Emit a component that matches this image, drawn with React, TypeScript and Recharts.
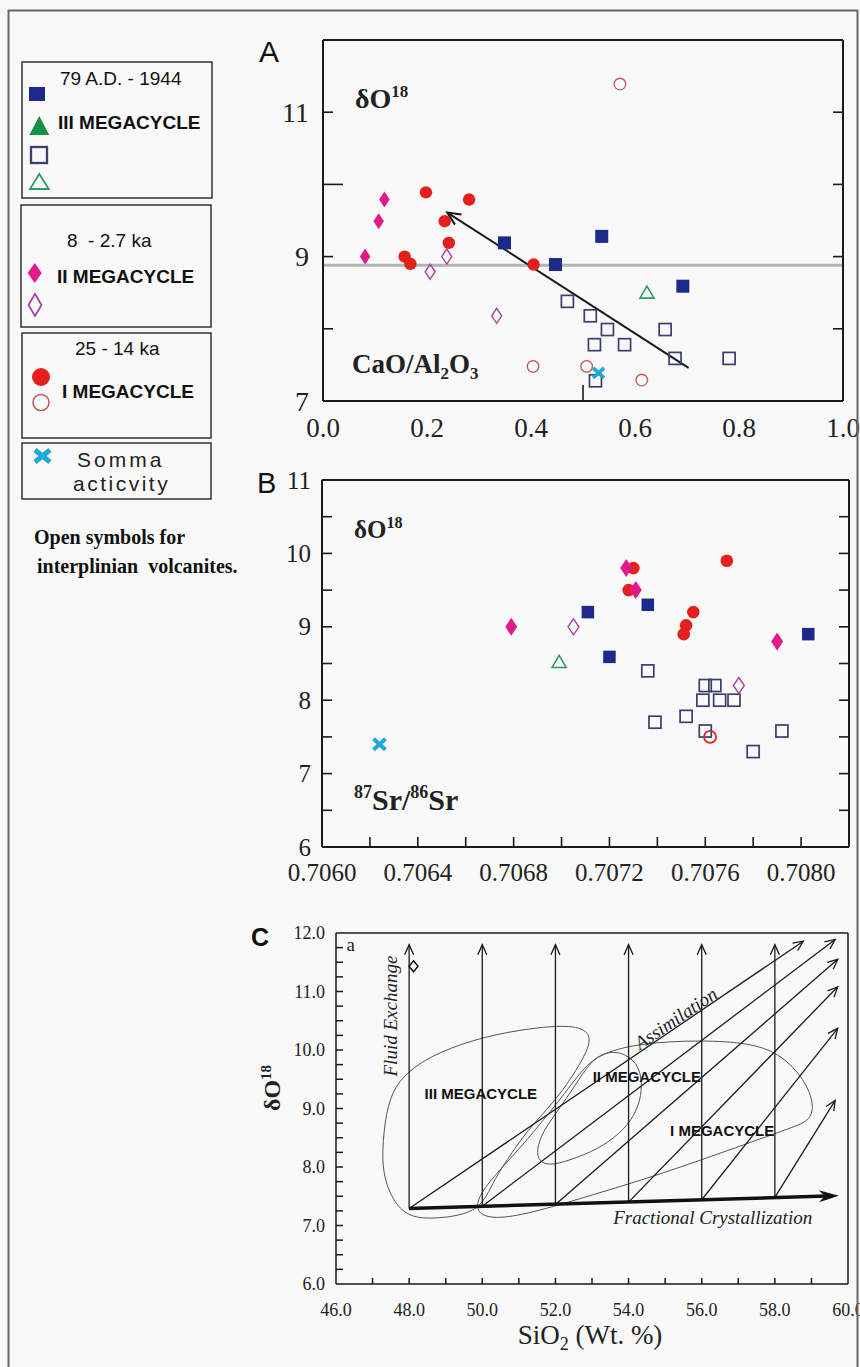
import React from 'react';
import { ComposedChart, Scatter, XAxis, YAxis, ReferenceLine, Line } from 'recharts';

const SERIF = '"Liberation Serif", "Times New Roman", serif';
const SANS = '"Liberation Sans", Arial, sans-serif';

// ---------- colours
const NAVY = '#1d2a8c';
const NAVY_OPEN = '#3b3e6e';
const GREEN = '#17904a';
const GREEN_OPEN = '#2f9a62';
const MAGENTA = '#e3188b';
const PURPLE_OPEN = '#a8449e';
const RED = '#e3201e';
const RED_OPEN_A = '#b95a55';
const RED_OPEN_B = '#e02525';
const CYAN = '#1fa9d6';

// ---------- Panel A : δO18 vs CaO/Al2O3
const aXTicks = [0, 0.1, 0.2, 0.3, 0.4, 0.5, 0.6, 0.7, 0.8, 0.9, 1.0];
const aXLabeled = [0, 0.2, 0.4, 0.6, 0.8, 1.0];
const aYTicks = [7, 8, 9, 10, 11, 12];
const aYLabeled = [7, 9, 11];
const aSquaresFilled = [
  { x: 0.349, y: 9.19 }, { x: 0.536, y: 9.28 }, { x: 0.447, y: 8.89 }, { x: 0.692, y: 8.59 },
];
const aSquaresOpen = [
  { x: 0.470, y: 8.38 }, { x: 0.514, y: 8.18 }, { x: 0.547, y: 7.99 }, { x: 0.522, y: 7.78 },
  { x: 0.580, y: 7.78 }, { x: 0.658, y: 7.99 }, { x: 0.677, y: 7.59 }, { x: 0.781, y: 7.59 },
  { x: 0.524, y: 7.28 },
];
const aTrianglesOpen = [{ x: 0.623, y: 8.5 }];
const aDiamondsFilled = [{ x: 0.081, y: 9.0 }, { x: 0.107, y: 9.49 }, { x: 0.118, y: 9.79 }];
const aDiamondsOpen = [{ x: 0.206, y: 8.79 }, { x: 0.238, y: 9.0 }, { x: 0.334, y: 8.18 }];
const aCirclesFilled = [
  { x: 0.198, y: 9.89 }, { x: 0.281, y: 9.79 }, { x: 0.234, y: 9.49 }, { x: 0.242, y: 9.19 },
  { x: 0.157, y: 9.0 }, { x: 0.168, y: 8.9 }, { x: 0.405, y: 8.89 },
];
const aCirclesOpen = [{ x: 0.571, y: 11.39 }, { x: 0.404, y: 7.48 }, { x: 0.507, y: 7.48 }, { x: 0.613, y: 7.29 }];
const aSomma = [{ x: 0.530, y: 7.39 }];
const aReferenceLevel = 8.88;
const aTrendFrom = { x: 0.703, y: 7.46 };
const aTrendTo = { x: 0.239, y: 9.61 };

// ---------- Panel B : δO18 vs 87Sr/86Sr
const bXTicks = [0.706, 0.7062, 0.7064, 0.7066, 0.7068, 0.707, 0.7072, 0.7074, 0.7076, 0.7078, 0.708, 0.7082];
const bXLabeled = [0.706, 0.7064, 0.7068, 0.7072, 0.7076, 0.708];
const bYTicks = [6, 6.5, 7, 7.5, 8, 8.5, 9, 9.5, 10, 10.5, 11];
const bYLabeled = [6, 7, 8, 9, 10, 11];
const bSquaresFilled = [
  { x: 0.70711, y: 9.2 }, { x: 0.7072, y: 8.59 }, { x: 0.70736, y: 9.3 }, { x: 0.70803, y: 8.9 },
];
const bSquaresOpen = [
  { x: 0.70736, y: 8.4 }, { x: 0.70739, y: 7.7 }, { x: 0.70752, y: 7.78 }, { x: 0.7076, y: 8.2 },
  { x: 0.70764, y: 8.2 }, { x: 0.70759, y: 8.0 }, { x: 0.70766, y: 8.0 }, { x: 0.70772, y: 8.0 },
  { x: 0.7076, y: 7.58 }, { x: 0.7078, y: 7.3 }, { x: 0.70792, y: 7.58 },
];
const bTrianglesOpen = [{ x: 0.70699, y: 8.52 }];
const bDiamondsFilled = [{ x: 0.70679, y: 9.0 }, { x: 0.70727, y: 9.8 }, { x: 0.70731, y: 9.5 }, { x: 0.7079, y: 8.8 }];
const bDiamondsOpen = [{ x: 0.70705, y: 9.0 }, { x: 0.70774, y: 8.2 }];
const bCirclesFilled = [
  { x: 0.7073, y: 9.8 }, { x: 0.70728, y: 9.5 }, { x: 0.70755, y: 9.2 }, { x: 0.70752, y: 9.02 },
  { x: 0.70751, y: 8.9 }, { x: 0.70769, y: 9.9 },
];
const bCirclesOpen = [{ x: 0.70762, y: 7.5 }];
const bSomma = [{ x: 0.70624, y: 7.4 }];

// ---------- Panel C : δO18 vs SiO2 (schematic)
const cXTicks = [46, 47, 48, 49, 50, 51, 52, 53, 54, 55, 56, 57, 58, 59, 60];
const cXLabeled = [46, 48, 50, 52, 54, 56, 58, 60];
const cYTicks = [6, 6.25, 6.5, 6.75, 7, 7.25, 7.5, 7.75, 8, 8.25, 8.5, 8.75, 9, 9.25, 9.5, 9.75, 10, 10.25, 10.5, 10.75, 11, 11.25, 11.5, 11.75, 12];
const cYLabeled = [6, 7, 8, 9, 10, 11, 12];
const cRiseX = [48, 50, 52, 54, 56, 58];
const cRiseBaseY = [7.29, 7.33, 7.36, 7.4, 7.44, 7.48];
const cRiseTopY = 11.8;
const cAssimEnd = [
  { x: 58.78, y: 11.86 }, { x: 59.65, y: 11.89 }, { x: 59.72, y: 11.55 },
  { x: 59.72, y: 11.08 }, { x: 59.72, y: 10.37 }, { x: 59.65, y: 9.14 },
];
const cFractionalFrom = { x: 48, y: 7.29 };
const cFractionalTo = { x: 59.75, y: 7.51 };
const cFieldIII = [
  { x: 47.3, y: 8.6 }, { x: 47.45, y: 9.2 }, { x: 47.9, y: 9.62 }, { x: 48.8, y: 9.97 },
  { x: 50.1, y: 10.24 }, { x: 51.4, y: 10.38 }, { x: 52.45, y: 10.43 }, { x: 53.0, y: 10.3 },
  { x: 52.88, y: 9.95 }, { x: 52.1, y: 9.2 }, { x: 51.4, y: 8.75 }, { x: 50.8, y: 8.25 },
  { x: 50.3, y: 7.75 }, { x: 50.05, y: 7.4 }, { x: 49.6, y: 7.18 }, { x: 48.5, y: 7.1 },
  { x: 47.85, y: 7.18 }, { x: 47.45, y: 7.55 }, { x: 47.25, y: 8.0 },
];
const cFieldII = [
  { x: 51.55, y: 8.08 }, { x: 51.48, y: 8.3 }, { x: 51.65, y: 8.6 }, { x: 52.05, y: 8.95 },
  { x: 52.55, y: 9.4 }, { x: 52.95, y: 9.8 }, { x: 53.4, y: 9.98 }, { x: 53.9, y: 9.95 },
  { x: 54.32, y: 9.72 }, { x: 54.38, y: 9.3 }, { x: 54.22, y: 8.95 }, { x: 53.9, y: 8.65 },
  { x: 53.3, y: 8.35 }, { x: 52.6, y: 8.16 }, { x: 51.9, y: 8.02 },
];
const cFieldI = [
  { x: 49.82, y: 7.2 }, { x: 49.88, y: 7.5 }, { x: 50.4, y: 7.9 }, { x: 51.0, y: 8.3 },
  { x: 51.9, y: 8.97 }, { x: 52.6, y: 9.55 }, { x: 53.1, y: 9.92 }, { x: 54.3, y: 10.12 },
  { x: 56.0, y: 10.17 }, { x: 57.3, y: 10.12 }, { x: 58.1, y: 9.95 }, { x: 58.75, y: 9.56 },
  { x: 59.08, y: 9.1 }, { x: 58.98, y: 8.8 }, { x: 58.5, y: 8.68 }, { x: 56.7, y: 8.28 },
  { x: 54.9, y: 7.88 }, { x: 53.0, y: 7.52 }, { x: 51.5, y: 7.24 }, { x: 50.4, y: 7.1 },
];
const cFieldLabels = [
  { x: 49.96, y: 9.26, label: 'III MEGACYCLE' },
  { x: 54.5, y: 9.54, label: 'II MEGACYCLE' },
  { x: 56.56, y: 8.63, label: 'I MEGACYCLE' },
];
const cProcessLabels = [
  { x: 56.3, y: 7.13, label: 'Fractional Crystallization', angle: 0 },
  { x: 55.29, y: 10.54, label: 'Assimilation', angle: -34 },
  { x: 47.49, y: 10.58, label: 'Fluid Exchange', angle: -90 },
];
const cCornerLabel = [{ x: 46.4, y: 11.8, label: 'a' }];
const cDiamond = [{ x: 48.12, y: 11.43 }];

// ---------- helpers
const near = (arr: number[], v: number) => arr.some((a) => Math.abs(a - v) < 1e-7);

type TickCfg = {
  side: 'bottom' | 'top' | 'left' | 'right';
  len: (v: number) => number;
  label?: (v: number) => string | null;
  offset?: number;
  fontSize?: number;
  strokeWidth?: number;
};

const makeTick = (c: TickCfg) => (props: any) => {
  const { x, y, payload } = props;
  const v = payload.value as number;
  const L = c.len(v);
  let x2 = x;
  let y2 = y;
  if (c.side === 'bottom') y2 = y - L;
  else if (c.side === 'top') y2 = y + L;
  else if (c.side === 'left') x2 = x + L;
  else x2 = x - L;
  const lab = c.label ? c.label(v) : null;
  const off = c.offset ?? 10;
  let text: any = null;
  if (lab !== null && lab !== undefined) {
    const common = { fontFamily: SERIF, fontSize: c.fontSize ?? 20, fill: '#222', dominantBaseline: 'central' as any };
    if (c.side === 'bottom') {
      text = (
        <text x={x} y={y + off} textAnchor="middle" {...common}>
          {lab}
        </text>
      );
    } else if (c.side === 'left') {
      text = (
        <text x={x - off} y={y} textAnchor="end" {...common}>
          {lab}
        </text>
      );
    }
  }
  return (
    <g>
      {L > 0 && <line x1={x} y1={y} x2={x2} y2={y2} stroke="#1a1a1a" strokeWidth={c.strokeWidth ?? 1.6} />}
      {text}
    </g>
  );
};

const sqShape = (size: number, fill: string, stroke: string, sw: number) => (p: any) => (
  <rect x={p.cx - size / 2} y={p.cy - size / 2} width={size} height={size} fill={fill} stroke={stroke} strokeWidth={sw} />
);
const circShape = (r: number, fill: string, stroke: string, sw: number) => (p: any) => (
  <circle cx={p.cx} cy={p.cy} r={r} fill={fill} stroke={stroke} strokeWidth={sw} />
);
const diaShape = (w: number, h: number, fill: string, stroke: string, sw: number) => (p: any) => (
  <polygon
    points={`${p.cx},${p.cy - h / 2} ${p.cx + w / 2},${p.cy} ${p.cx},${p.cy + h / 2} ${p.cx - w / 2},${p.cy}`}
    fill={fill}
    stroke={stroke}
    strokeWidth={sw}
  />
);
const triShape = (w: number, h: number, fill: string, stroke: string, sw: number) => (p: any) => (
  <polygon
    points={`${p.cx},${p.cy - h * 0.55} ${p.cx + w / 2},${p.cy + h * 0.45} ${p.cx - w / 2},${p.cy + h * 0.45}`}
    fill={fill}
    stroke={stroke}
    strokeWidth={sw}
  />
);
const xShape = (w: number, h: number, color: string, sw: number) => (p: any) => (
  <g>
    <line x1={p.cx - w / 2} y1={p.cy - h / 2} x2={p.cx + w / 2} y2={p.cy + h / 2} stroke={color} strokeWidth={sw} />
    <line x1={p.cx - w / 2} y1={p.cy + h / 2} x2={p.cx + w / 2} y2={p.cy - h / 2} stroke={color} strokeWidth={sw} />
  </g>
);

const arrowLine = (color: string, width: number, head: number, halfW: number, filled: boolean) => (p: any) => {
  const { x1, y1, x2, y2 } = p;
  if ([x1, y1, x2, y2].some((v) => typeof v !== 'number' || isNaN(v))) return <g />;
  const ang = Math.atan2(y2 - y1, x2 - x1);
  const cos = Math.cos(ang);
  const sin = Math.sin(ang);
  const bx = x2 - head * cos;
  const by = y2 - head * sin;
  const ax1 = bx - halfW * sin;
  const ay1 = by + halfW * cos;
  const ax2 = bx + halfW * sin;
  const ay2 = by - halfW * cos;
  const ex = filled ? x2 - head * 0.6 * cos : x2;
  const ey = filled ? y2 - head * 0.6 * sin : y2;
  return (
    <g>
      <line x1={x1} y1={y1} x2={ex} y2={ey} stroke={color} strokeWidth={width} />
      {filled ? (
        <polygon points={`${x2},${y2} ${ax1},${ay1} ${x2 - head * 0.7 * cos},${y2 - head * 0.7 * sin} ${ax2},${ay2}`} fill={color} />
      ) : (
        <polyline points={`${ax1},${ay1} ${x2},${y2} ${ax2},${ay2}`} fill="none" stroke={color} strokeWidth={width} />
      )}
    </g>
  );
};

const fieldTextShape = (p: any) => (
  <text
    x={p.cx}
    y={p.cy}
    textAnchor="middle"
    dominantBaseline="central"
    fontFamily={SANS}
    fontWeight="bold"
    fontSize={15}
    fill="#111"
  >
    {p.payload.label}
  </text>
);
const processTextShape = (p: any) => (
  <text
    x={p.cx}
    y={p.cy}
    textAnchor="middle"
    dominantBaseline="central"
    fontFamily={SERIF}
    fontStyle="italic"
    fontSize={19}
    fill="#222"
    transform={`rotate(${p.payload.angle} ${p.cx} ${p.cy})`}
  >
    {p.payload.label}
  </text>
);
const cornerTextShape = (p: any) => (
  <text x={p.cx} y={p.cy} textAnchor="middle" dominantBaseline="central" fontFamily={SERIF} fontSize={19} fill="#222">
    {p.payload.label}
  </text>
);

const AXIS_A = { stroke: '#1a1a1a', strokeWidth: 2 };
const AXIS_C = { stroke: '#1a1a1a', strokeWidth: 1.5 };

function PanelA() {
  return (
    <ComposedChart width={600} height={430} margin={{ top: 19, right: 19, left: 0, bottom: 0 }}>
      <XAxis
        dataKey="x"
        type="number"
        domain={[0, 1]}
        allowDataOverflow
        ticks={aXTicks}
        interval={0}
        height={49}
        tickSize={0}
        tickMargin={0}
        tickLine={false}
        axisLine={AXIS_A}
        tick={makeTick({
          side: 'bottom',
          len: (v) => (Math.abs(v - 0.5) < 1e-6 ? 16 : 0),
          label: (v) => (near(aXLabeled, v) ? v.toFixed(1) : null),
          offset: 27,
          fontSize: 27,
        })}
      />
      <XAxis
        xAxisId="top"
        orientation="top"
        type="number"
        domain={[0, 1]}
        allowDataOverflow
        ticks={aXTicks}
        interval={0}
        height={1}
        tickSize={0}
        tickMargin={0}
        tickLine={false}
        axisLine={AXIS_A}
        tick={makeTick({ side: 'top', len: (v) => (v > 0.01 && v < 0.99 ? 8 : 0) })}
      />
      <YAxis
        dataKey="y"
        type="number"
        domain={[7, 12]}
        allowDataOverflow
        ticks={aYTicks}
        interval={0}
        width={60}
        tickSize={0}
        tickMargin={0}
        tickLine={false}
        axisLine={AXIS_A}
        tick={makeTick({
          side: 'left',
          len: (v) => (v === 10 ? 20 : v > 7 && v < 12 ? 10 : 0),
          label: (v) => (near(aYLabeled, v) ? String(v) : null),
          offset: 14,
          fontSize: 28,
        })}
      />
      <YAxis
        yAxisId="right"
        orientation="right"
        type="number"
        domain={[7, 12]}
        allowDataOverflow
        ticks={aYTicks}
        interval={0}
        width={1}
        tickSize={0}
        tickMargin={0}
        tickLine={false}
        axisLine={AXIS_A}
        tick={makeTick({ side: 'right', len: (v) => (v > 7 && v < 12 ? 10 : 0) })}
      />
      <ReferenceLine y={aReferenceLevel} stroke="#b3b3b3" strokeWidth={3} />
      <ReferenceLine segment={[aTrendFrom, aTrendTo]} shape={arrowLine('#1a1a1a', 2, 13, 6, false)} />
      <Scatter data={aSquaresOpen} shape={sqShape(12, 'none', NAVY_OPEN, 1.7)} isAnimationActive={false} />
      <Scatter data={aCirclesOpen} shape={circShape(5.8, 'none', RED_OPEN_A, 1.3)} isAnimationActive={false} />
      <Scatter data={aDiamondsOpen} shape={diaShape(10, 15, 'none', PURPLE_OPEN, 1.4)} isAnimationActive={false} />
      <Scatter data={aTrianglesOpen} shape={triShape(14, 12, 'none', GREEN_OPEN, 1.6)} isAnimationActive={false} />
      <Scatter data={aSquaresFilled} shape={sqShape(13, NAVY, NAVY, 0)} isAnimationActive={false} />
      <Scatter data={aCirclesFilled} shape={circShape(6.2, RED, RED, 0)} isAnimationActive={false} />
      <Scatter data={aDiamondsFilled} shape={diaShape(10.5, 16, MAGENTA, MAGENTA, 0)} isAnimationActive={false} />
      <Scatter data={aSomma} shape={xShape(11, 10, CYAN, 3.5)} isAnimationActive={false} />
    </ComposedChart>
  );
}

function PanelB() {
  return (
    <ComposedChart width={600} height={436} margin={{ top: 19, right: 12, left: 0, bottom: 0 }}>
      <XAxis
        dataKey="x"
        type="number"
        domain={[0.706, 0.7082]}
        allowDataOverflow
        ticks={bXTicks}
        interval={0}
        height={49}
        tickSize={0}
        tickMargin={0}
        tickLine={false}
        axisLine={AXIS_A}
        tick={makeTick({
          side: 'bottom',
          len: (v) => (v > 0.70601 && v < 0.70819 ? 10 : 0),
          label: (v) => (near(bXLabeled, v) ? v.toFixed(4) : null),
          offset: 25,
          fontSize: 25,
        })}
      />
      <XAxis
        xAxisId="top"
        orientation="top"
        type="number"
        domain={[0.706, 0.7082]}
        allowDataOverflow
        ticks={bXTicks}
        interval={0}
        height={1}
        tickSize={0}
        tickMargin={0}
        tickLine={false}
        axisLine={AXIS_A}
        tick={makeTick({ side: 'top', len: (v) => (v > 0.70601 && v < 0.70819 ? 10 : 0) })}
      />
      <YAxis
        dataKey="y"
        type="number"
        domain={[6, 11]}
        allowDataOverflow
        ticks={bYTicks}
        interval={0}
        width={60}
        tickSize={0}
        tickMargin={0}
        tickLine={false}
        axisLine={AXIS_A}
        tick={makeTick({
          side: 'left',
          len: (v) => (v > 6 && v < 11 ? 10 : 0),
          label: (v) => (near(bYLabeled, v) ? String(v) : null),
          offset: 11,
          fontSize: 25,
        })}
      />
      <YAxis
        yAxisId="right"
        orientation="right"
        type="number"
        domain={[6, 11]}
        allowDataOverflow
        ticks={bYTicks}
        interval={0}
        width={1}
        tickSize={0}
        tickMargin={0}
        tickLine={false}
        axisLine={AXIS_A}
        tick={makeTick({ side: 'right', len: (v) => (v > 6 && v < 11 ? 10 : 0) })}
      />
      <Scatter data={bSquaresOpen} shape={sqShape(12, 'none', NAVY_OPEN, 1.7)} isAnimationActive={false} />
      <Scatter data={bCirclesOpen} shape={circShape(6, 'none', RED_OPEN_B, 1.8)} isAnimationActive={false} />
      <Scatter data={bDiamondsOpen} shape={diaShape(11, 16, 'none', PURPLE_OPEN, 1.4)} isAnimationActive={false} />
      <Scatter data={bTrianglesOpen} shape={triShape(14, 12, 'none', GREEN_OPEN, 1.6)} isAnimationActive={false} />
      <Scatter data={bSquaresFilled} shape={sqShape(12.5, NAVY, NAVY, 0)} isAnimationActive={false} />
      <Scatter data={bCirclesFilled} shape={circShape(6.3, RED, RED, 0)} isAnimationActive={false} />
      <Scatter data={bDiamondsFilled} shape={diaShape(12, 18, MAGENTA, MAGENTA, 0)} isAnimationActive={false} />
      <Scatter data={bSomma} shape={xShape(12, 11, CYAN, 4)} isAnimationActive={false} />
    </ComposedChart>
  );
}

function PanelC() {
  return (
    <ComposedChart width={600} height={420} margin={{ top: 19, right: 27, left: 0, bottom: 0 }}>
      <XAxis
        dataKey="x"
        type="number"
        domain={[46, 60]}
        allowDataOverflow
        ticks={cXTicks}
        interval={0}
        height={49}
        tickSize={0}
        tickMargin={0}
        tickLine={false}
        axisLine={AXIS_C}
        tick={makeTick({
          side: 'bottom',
          len: (v) => (v > 46 && v < 60 ? 6 : 0),
          label: (v) => (near(cXLabeled, v) ? v.toFixed(1) : null),
          offset: 26,
          fontSize: 18,
          strokeWidth: 1.5,
        })}
      />
      <XAxis
        xAxisId="top"
        orientation="top"
        type="number"
        domain={[46, 60]}
        allowDataOverflow
        height={1}
        tick={false}
        tickLine={false}
        axisLine={AXIS_C}
      />
      <YAxis
        dataKey="y"
        type="number"
        domain={[6, 12]}
        allowDataOverflow
        ticks={cYTicks}
        interval={0}
        width={60}
        tickSize={0}
        tickMargin={0}
        tickLine={false}
        axisLine={AXIS_C}
        tick={makeTick({
          side: 'left',
          len: (v) => (v > 6 && v < 12 ? 7 : 0),
          label: (v) => (near(cYLabeled, v) ? v.toFixed(1) : null),
          offset: 11,
          fontSize: 18,
          strokeWidth: 1.5,
        })}
      />
      <YAxis
        yAxisId="right"
        orientation="right"
        type="number"
        domain={[6, 12]}
        allowDataOverflow
        width={1}
        tick={false}
        tickLine={false}
        axisLine={AXIS_C}
      />
      <Line data={cFieldIII} dataKey="y" type="basisClosed" stroke="#555" strokeWidth={1} dot={false} activeDot={false} isAnimationActive={false} />
      <Line data={cFieldII} dataKey="y" type="basisClosed" stroke="#555" strokeWidth={1} dot={false} activeDot={false} isAnimationActive={false} />
      <Line data={cFieldI} dataKey="y" type="basisClosed" stroke="#555" strokeWidth={1} dot={false} activeDot={false} isAnimationActive={false} />
      {cRiseX.map((x, i) => (
        <ReferenceLine
          key={'rise' + i}
          segment={[{ x, y: cRiseBaseY[i] }, { x, y: cRiseTopY }]}
          shape={arrowLine('#1a1a1a', 1.3, 10, 4.5, false)}
        />
      ))}
      {cRiseX.map((x, i) => (
        <ReferenceLine
          key={'assim' + i}
          segment={[{ x, y: cRiseBaseY[i] }, cAssimEnd[i]]}
          shape={arrowLine('#1a1a1a', 1.3, 10, 4.5, false)}
        />
      ))}
      <ReferenceLine segment={[cFractionalFrom, cFractionalTo]} shape={arrowLine('#111', 3.5, 20, 6, true)} />
      <Scatter data={cFieldLabels} shape={fieldTextShape} isAnimationActive={false} />
      <Scatter data={cProcessLabels} shape={processTextShape} isAnimationActive={false} />
      <Scatter data={cCornerLabel} shape={cornerTextShape} isAnimationActive={false} />
      <Scatter data={cDiamond} shape={diaShape(9, 11, 'none', '#111', 1.5)} isAnimationActive={false} />
    </ComposedChart>
  );
}

function Overlay() {
  const box = { fill: 'none', stroke: '#333', strokeWidth: 1.5 };
  const legendText = { fontFamily: SANS, fontSize: 19, fill: '#111' };
  return (
    <svg width={860} height={1367} style={{ position: 'absolute', left: 0, top: 0, pointerEvents: 'none' }}>
      {/* outer frame */}
      <rect x={8.5} y={10.5} width={849} height={1380} fill="none" stroke="#666" strokeWidth={2} />

      {/* legend box 1 */}
      <rect x={22} y={62} width={190} height={136} {...box} />
      <text x={60} y={85} {...legendText}>79 A.D. - 1944</text>
      <rect x={29} y={87} width={16} height={14} fill={NAVY} />
      <polygon points="39.3,116 29.3,135 49.3,135" fill={GREEN} />
      <text x={58} y={129} {...legendText} fontWeight="bold">III MEGACYCLE</text>
      <rect x={31} y={147} width={16} height={16} fill="none" stroke={NAVY_OPEN} strokeWidth={2.3} />
      <polygon points="39.3,174 30,189 48.7,189" fill="none" stroke={GREEN_OPEN} strokeWidth={1.8} />

      {/* legend box 2 */}
      <rect x={21} y={205} width={190} height={122} {...box} />
      <text x={67} y={247} {...legendText} style={{ whiteSpace: 'pre' }}>8  - 2.7 ka</text>
      <polygon points="34.7,263 41.7,273 34.7,283 27.7,273" fill={MAGENTA} />
      <text x={57} y={283} {...legendText} fontWeight="bold">II MEGACYCLE</text>
      <polygon points="35,294 41.5,305 35,316 28.5,305" fill="none" stroke={PURPLE_OPEN} strokeWidth={1.8} />

      {/* legend box 3 */}
      <rect x={22} y={333} width={189} height={105} {...box} />
      <text x={75} y={355} {...legendText}>25 - 14 ka</text>
      <circle cx={41} cy={377} r={9} fill={RED} />
      <circle cx={41} cy={402.5} r={8} fill="none" stroke={RED_OPEN_A} strokeWidth={1.5} />
      <text x={62} y={398} {...legendText} fontWeight="bold">I MEGACYCLE</text>

      {/* legend box 4 */}
      <rect x={22} y={443} width={189} height={56} {...box} />
      <line x1={35} y1={450} x2={50} y2={462} stroke={CYAN} strokeWidth={5} />
      <line x1={35} y1={462} x2={50} y2={450} stroke={CYAN} strokeWidth={5} />
      <text x={77} y={467} fontFamily={SANS} fontSize={21} letterSpacing={3} fill="#222">Somma</text>
      <text x={73} y={491} fontFamily={SANS} fontSize={21} letterSpacing={2.5} fill="#222">acticvity</text>

      {/* note */}
      <text x={34} y={544} fontFamily={SERIF} fontWeight="bold" fontSize={20} fill="#111">Open symbols for</text>
      <text x={37} y={573} fontFamily={SERIF} fontWeight="bold" fontSize={20} fill="#111" style={{ whiteSpace: 'pre' }}>
        interplinian  volcanites.
      </text>

      {/* panel A labels */}
      <text x={259} y={62} fontFamily={SANS} fontSize={30} fill="#111">A</text>
      <text x={355} y={108} fontFamily={SERIF} fontWeight="bold" fontSize={28} fill="#222">
        δO<tspan fontSize={17} dy={-11}>18</tspan>
      </text>
      <text x={352} y={373} fontFamily={SERIF} fontWeight="bold" fontSize={27} fill="#222">
        CaO/Al<tspan fontSize={17} dy={6}>2</tspan>
        <tspan dy={-6}>O</tspan>
        <tspan fontSize={17} dy={6}>3</tspan>
      </text>

      {/* panel B labels */}
      <text x={257} y={493} fontFamily={SANS} fontSize={29} fill="#111">B</text>
      <text x={354} y={538} fontFamily={SERIF} fontWeight="bold" fontSize={25} fill="#222">
        δO<tspan fontSize={16} dy={-10}>18</tspan>
      </text>
      <text x={354} y={810} fontFamily={SERIF} fontWeight="bold" fontSize={30} fill="#222">
        <tspan fontSize={18} dy={-12}>87</tspan>
        <tspan dy={12}>Sr/</tspan>
        <tspan fontSize={18} dy={-12}>86</tspan>
        <tspan dy={12}>Sr</tspan>
      </text>

      {/* panel C labels */}
      <text x={251} y={946} fontFamily={SANS} fontWeight="bold" fontSize={25} fill="#111">C</text>
      <text transform="translate(280,1088) rotate(-90)" textAnchor="middle" fontFamily={SERIF} fontWeight="bold" fontSize={24} fill="#222">
        δO<tspan fontSize={15} dy={-9}>18</tspan>
      </text>
      <text x={590} y={1344} textAnchor="middle" fontFamily={SERIF} fontSize={27} fill="#222" style={{ whiteSpace: 'pre' }}>
        SiO<tspan fontSize={18} dy={6}>2</tspan>
        <tspan dy={-6}> (Wt. %)</tspan>
      </text>
    </svg>
  );
}

export default function App() {
  return (
    <div
      style={{
        position: 'absolute',
        left: 0,
        top: 0,
        width: 860,
        height: 1367,
        overflow: 'hidden',
        background: '#f9f9f9',
      }}
    >
      <div style={{ position: 'absolute', left: 263, top: 20 }}>
        <PanelA />
      </div>
      <div style={{ position: 'absolute', left: 262, top: 460 }}>
        <PanelB />
      </div>
      <div style={{ position: 'absolute', left: 276, top: 913 }}>
        <PanelC />
      </div>
      <Overlay />
    </div>
  );
}
